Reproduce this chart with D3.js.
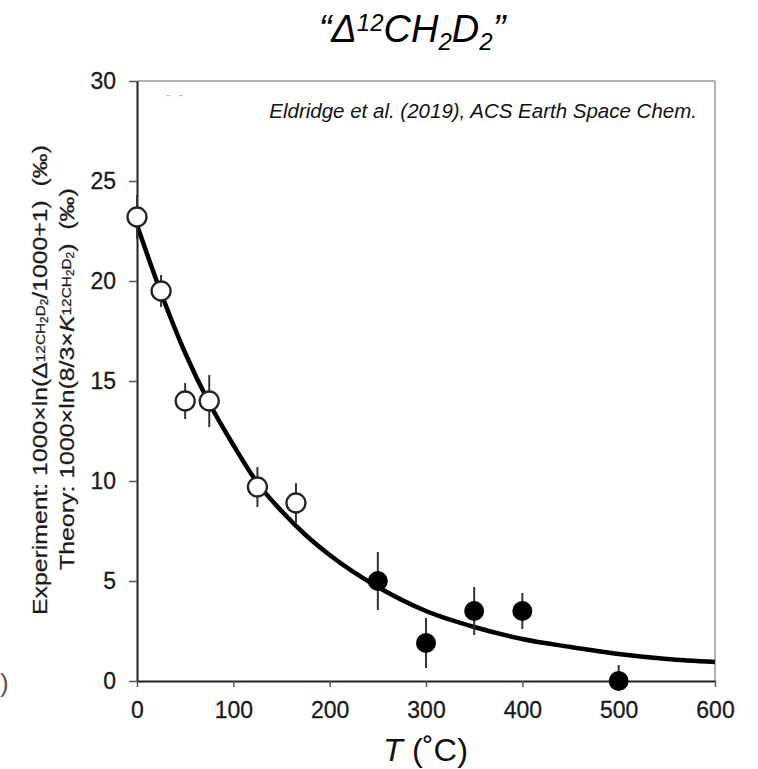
<!DOCTYPE html>
<html><head><meta charset="utf-8">
<script src="https://cdn.jsdelivr.net/npm/d3@7"></script>
<style>body{margin:0;background:#fff}svg{display:block}text{white-space:pre}</style>
</head><body>
<script>
// Data
const openT = [0, 25, 50, 75, 125, 165];
const openV = [23.2, 19.5, 14.0, 14.0, 9.7, 8.9];
const openErr = [1.1, 0.8, 0.9, 1.3, 1.0, 1.0];
const fillT = [250, 300, 350, 400, 500];
const fillV = [5.0, 1.9, 3.5, 3.5, 0.0];
const fillErr = [1.45, 1.25, 1.2, 0.9, 0.8];
const curveT = [0, 25, 50, 75, 100, 125, 150, 175, 200, 250, 300, 350, 400, 450, 500, 550, 600];
const curveV = [22.8, 19.4, 16.4, 13.9, 11.8, 9.9, 8.5, 7.3, 6.3, 4.7, 3.5, 2.7, 2.1, 1.7, 1.35, 1.1, 0.95];
const xTicks = [0, 100, 200, 300, 400, 500, 600];
const yTicks = [0, 5, 10, 15, 20, 25, 30];

const W = 758, H = 769;
const pL = 137, pR = 715, pT = 81, pB = 681;
const svg = d3.select("body").append("svg").attr("width", W).attr("height", H);
const x = d3.scaleLinear().domain([0, 600]).range([pL, pR]);
const y = d3.scaleLinear().domain([0, 30]).range([pB, pT]);
const sans = "'Liberation Sans', Arial, sans-serif";

// frame (top/right grey)
svg.append("line").attr("x1", pL).attr("x2", pR).attr("y1", pT).attr("y2", pT).attr("stroke", "#999").attr("stroke-width", 1.5);
svg.append("line").attr("x1", pR).attr("x2", pR).attr("y1", pT).attr("y2", pB).attr("stroke", "#999").attr("stroke-width", 1.5);

// axes
const xAxis = svg.append("g").attr("transform", `translate(0,${pB})`)
  .call(d3.axisBottom(x).tickValues(xTicks).tickSize(6).tickPadding(15).tickSizeOuter(0));
const yAxis = svg.append("g").attr("transform", `translate(${pL},0)`)
  .call(d3.axisLeft(y).tickValues(yTicks).tickSize(8).tickPadding(13).tickSizeOuter(0));
[xAxis, yAxis].forEach(g => {
  g.select(".domain").attr("stroke", "#222").attr("stroke-width", 2);
  g.selectAll(".tick line").attr("stroke", "#555").attr("stroke-width", 1.5);
  g.selectAll(".tick text").attr("font-family", sans).attr("font-size", 23).attr("fill", "#1a1a1a")
    .attr("stroke", "#1a1a1a").attr("stroke-width", 0.3);
});
xAxis.selectAll(".tick text").attr("dy", "0.71em");

// curve
const line = d3.line().x((d, i) => x(curveT[i])).y(d => y(d)).curve(d3.curveMonotoneX);
svg.append("path").attr("d", line(curveV)).attr("fill", "none").attr("stroke", "#000").attr("stroke-width", 4.5);

// error bars
const errG = svg.append("g").attr("stroke", "#333").attr("stroke-width", 2);
openT.forEach((t, i) => errG.append("line").attr("x1", x(t)).attr("x2", x(t)).attr("y1", y(openV[i] + openErr[i])).attr("y2", y(openV[i] - openErr[i])));
fillT.forEach((t, i) => errG.append("line").attr("x1", x(t)).attr("x2", x(t)).attr("y1", y(fillV[i] + fillErr[i])).attr("y2", y(Math.max(0, fillV[i] - fillErr[i]))));

// points
svg.append("g").selectAll("circle").data(openT).join("circle")
  .attr("cx", d => x(d)).attr("cy", (d, i) => y(openV[i])).attr("r", 9.5)
  .attr("fill", "#fff").attr("stroke", "#222").attr("stroke-width", 2.3);
svg.append("g").selectAll("circle").data(fillT).join("circle")
  .attr("cx", d => x(d)).attr("cy", (d, i) => y(fillV[i])).attr("r", 10)
  .attr("fill", "#000");

// title
const title = svg.append("text").attr("x", 412).attr("y", 42).attr("text-anchor", "middle")
  .attr("font-family", sans).attr("font-style", "italic").attr("font-size", 38).attr("fill", "#000");
title.append("tspan").text("“Δ");
title.append("tspan").attr("font-size", 24).attr("dy", -11).text("12");
title.append("tspan").attr("dy", 11).text("CH");
title.append("tspan").attr("font-size", 24).attr("dy", 8).text("2");
title.append("tspan").attr("dy", -8).text("D");
title.append("tspan").attr("font-size", 24).attr("dy", 8).text("2");
title.append("tspan").attr("dy", -8).text("”");

// citation
svg.append("text").attr("x", 697).attr("y", 118).attr("text-anchor", "end")
  .attr("font-family", sans).attr("font-style", "italic").attr("font-size", 20.5).attr("fill", "#111")
  .text("Eldridge et al. (2019), ACS Earth Space Chem.");

// faint remnants
svg.append("text").attr("x", 166).attr("y", 100).attr("font-family", sans).attr("font-size", 14).attr("fill", "#bbb").text("-  -");
svg.append("text").attr("x", 0).attr("y", 692).attr("font-family", sans).attr("font-size", 26).attr("fill", "#555").text(")");

// x label
const xl = svg.append("text").attr("font-family", sans).attr("font-size", 31).attr("fill", "#111");
xl.append("tspan").attr("font-style", "italic").text("T");
xl.append("tspan").text(" (˚C)");
{
  const w = xl.node().getBBox().width;
  xl.attr("transform", `translate(383,761) scale(${85 / w},1)`);
}

// y label (two rotated lines), fitted to the measured extent in the reference
function fitRot(t, xBase, yBottom, len) {
  const w = t.node().getBBox().width;
  t.attr("transform", `translate(${xBase},${yBottom}) rotate(-90) scale(${len / w},1)`);
}
const yl1 = svg.append("text").attr("font-family", sans).attr("font-size", 21).attr("fill", "#1a1a1a")
  .attr("stroke", "#1a1a1a").attr("stroke-width", 0.25);
yl1.append("tspan").text("Experiment: 1000×ln(Δ");
yl1.append("tspan").attr("font-size", 13).attr("dy", -2).text("12");
yl1.append("tspan").attr("font-size", 13).text("CH");
yl1.append("tspan").attr("font-size", 10).attr("dy", 3).text("2");
yl1.append("tspan").attr("font-size", 13).attr("dy", -3).text("D");
yl1.append("tspan").attr("font-size", 10).attr("dy", 3).text("2");
yl1.append("tspan").attr("dy", -1).text("/1000+1)  (‰)");
fitRot(yl1, 47, 615, 470);

const yl2 = svg.append("text").attr("font-family", sans).attr("font-size", 21).attr("fill", "#1a1a1a")
  .attr("stroke", "#1a1a1a").attr("stroke-width", 0.25);
yl2.append("tspan").text("Theory: 1000×ln(8/3×");
yl2.append("tspan").attr("font-style", "italic").text("K");
yl2.append("tspan").attr("font-size", 13).attr("dy", -3).text("12");
yl2.append("tspan").attr("font-size", 13).text("CH");
yl2.append("tspan").attr("font-size", 10).attr("dy", 3).text("2");
yl2.append("tspan").attr("font-size", 13).attr("dy", -3).text("D");
yl2.append("tspan").attr("font-size", 10).attr("dy", 3).text("2");
yl2.append("tspan").attr("dy", 0).text(")  (‰)");
fitRot(yl2, 74, 570, 382);
</script>
</body></html>
